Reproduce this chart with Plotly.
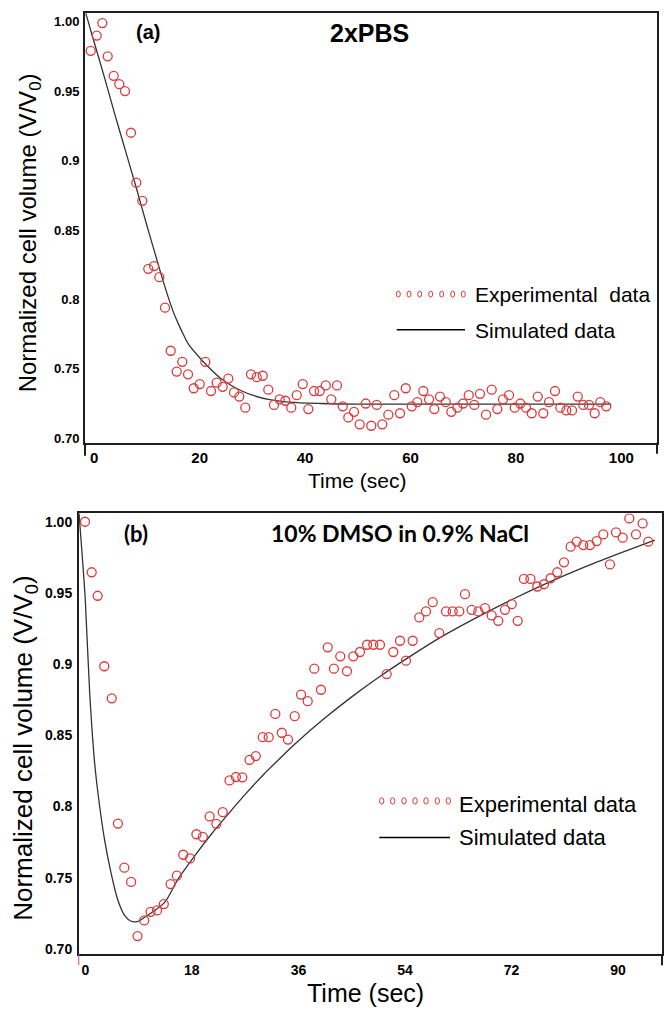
import plotly.graph_objects as go

W, H = 665, 1012

# ---------------- Panel (a): 2xPBS ----------------
t_exp_a = [-0.67, 0.46, 1.53, 2.55, 3.69, 4.75, 5.83, 6.97, 7.98, 9.12,
           10.25, 11.34, 12.34, 13.42, 14.50, 15.64, 16.70, 17.79, 18.87, 20.01,
           21.07, 22.15, 23.23, 24.37, 25.43, 26.51, 27.52, 28.66, 29.74, 30.82,
           31.96, 33.02, 34.10, 35.18, 36.25, 37.38, 38.41, 39.55, 40.61, 41.69,
           42.77, 43.91, 44.97, 46.05, 47.14, 48.20, 49.28, 50.36, 51.50, 52.56,
           53.59, 54.65, 55.79, 56.92, 58.01, 59.09, 60.23, 61.29, 62.43, 63.51,
           64.51, 65.59, 66.68, 67.74, 68.88, 69.96, 71.04, 72.10, 73.18, 74.32,
           75.40, 76.47, 77.55, 78.68, 79.77, 80.83, 81.91, 82.99, 84.13, 85.19,
           86.27, 87.41, 88.42, 89.55, 90.64, 91.72, 92.78, 93.86, 94.94, 96.00, 97.14]
v_exp_a = [0.979, 0.990, 0.999, 0.975, 0.961, 0.955, 0.950, 0.920, 0.884, 0.871,
           0.822, 0.824, 0.816, 0.794, 0.763, 0.748, 0.755, 0.746, 0.736, 0.739,
           0.755, 0.734, 0.740, 0.737, 0.743, 0.733, 0.730, 0.722, 0.746, 0.744,
           0.745, 0.735, 0.724, 0.728, 0.727, 0.722, 0.731, 0.739, 0.721, 0.734,
           0.734, 0.738, 0.728, 0.738, 0.723, 0.715, 0.719, 0.710, 0.725, 0.709,
           0.724, 0.710, 0.717, 0.731, 0.718, 0.736, 0.723, 0.726, 0.734, 0.728,
           0.721, 0.730, 0.726, 0.719, 0.722, 0.725, 0.731, 0.724, 0.732, 0.717,
           0.735, 0.721, 0.728, 0.731, 0.722, 0.725, 0.722, 0.718, 0.730, 0.718,
           0.726, 0.734, 0.722, 0.720, 0.720, 0.730, 0.724, 0.724, 0.718, 0.726, 0.723]
t_sim_a = [-1.6, 0, 2, 4, 6, 8, 10, 11, 12, 13, 14, 15, 16, 17, 18, 20, 22, 24, 26, 28,
           30, 33, 37, 43, 50, 98]
v_sim_a = [1.006, 0.985, 0.959, 0.932, 0.906, 0.880, 0.853, 0.840, 0.827, 0.814,
           0.802, 0.791, 0.782, 0.774, 0.767, 0.758, 0.750, 0.743, 0.738, 0.734,
           0.731, 0.728, 0.726, 0.725, 0.7245, 0.7245]
xticks_a = [0, 20, 40, 60, 80, 100]
yticks_a = [0.70, 0.75, 0.80, 0.85, 0.90, 0.95, 1.00]
yticktext_a = ["0.70", "0.75", "0.8", "0.85", "0.9", "0.95", "1.00"]

# ---------------- Panel (b): 10% DMSO in 0.9% NaCl ----------------
t_exp_b = [-0.05, 1.08, 2.09, 3.21, 4.46, 5.51, 6.59, 7.74, 8.82, 9.96,
           11.03, 12.11, 13.26, 14.41, 15.47, 16.55, 17.70, 18.77, 19.85, 21.0,
           22.14, 23.21, 24.36, 25.44, 26.52, 27.74, 28.80, 29.97, 30.98, 32.1,
           33.2, 34.24, 35.37, 36.44, 37.57, 38.68, 39.81, 40.95, 42.0, 43.07,
           44.2, 45.27, 46.4, 47.6, 48.65, 49.78, 50.91, 52.03, 53.16, 54.17,
           55.3, 56.42, 57.55, 58.68, 59.8, 60.93, 62.06, 63.18, 64.14, 65.27,
           66.39, 67.52, 68.65, 69.76, 70.9, 72.03, 73.04, 74.1, 75.2, 76.35,
           77.48, 78.6, 79.73, 80.86, 81.99, 83.0, 84.12, 85.25, 86.38, 87.5,
           88.63, 89.65, 90.78, 91.9, 93.03, 94.15, 95.1]
v_exp_b = [1.000, 0.9645, 0.948, 0.8985, 0.876, 0.788, 0.757, 0.747, 0.709, 0.720,
           0.726, 0.727, 0.7315, 0.7455, 0.7514, 0.7661, 0.7635, 0.7805, 0.7787, 0.7930,
           0.7878, 0.796, 0.8183, 0.8207, 0.8205, 0.8327, 0.8354, 0.8487, 0.8487, 0.865,
           0.8518, 0.847, 0.8634, 0.8786, 0.874, 0.8968, 0.882, 0.9118, 0.8968, 0.9055,
           0.895, 0.9055, 0.9085, 0.9136, 0.9136, 0.9136, 0.893, 0.9085, 0.9164, 0.9024,
           0.9164, 0.9328, 0.937, 0.9435, 0.9218, 0.937, 0.937, 0.937, 0.9491, 0.9381,
           0.937, 0.9393, 0.9342, 0.9304, 0.9381, 0.9421, 0.9304, 0.9598, 0.9598, 0.9545,
           0.9561, 0.9603, 0.9645, 0.9715, 0.9825, 0.986, 0.9836, 0.9836, 0.9864, 0.9911,
           0.970, 0.9925, 0.9888, 1.0023, 0.9911, 0.9988, 0.986]
t_sim_b = [-1.06, -0.5, 0.0, 0.74, 1.59, 2.43, 3.28, 4.39, 5.52, 6.66, 7.77, 8.9,
           10.03, 13.41, 15.66, 18.48, 21.28, 24.1, 27.0, 30.0, 33.0, 35.37, 40.0,
           45.0, 50.0, 55.0, 60.0, 66.0, 72.0, 78.0, 84.0, 90.0, 96.2]
v_sim_b = [1.006, 0.975, 0.945, 0.880, 0.830, 0.800, 0.776, 0.7525, 0.734, 0.7234,
           0.7194, 0.7194, 0.7222, 0.7327, 0.749, 0.7654, 0.7805, 0.7945, 0.8085,
           0.822, 0.8343, 0.8437, 0.8605, 0.877, 0.892, 0.9058, 0.9188, 0.9325,
           0.9452, 0.9569, 0.9676, 0.9774, 0.9871]
xticks_b = [0, 18, 36, 54, 72, 90]
yticks_b = [0.70, 0.75, 0.80, 0.85, 0.90, 0.95, 1.00]
yticktext_b = ["0.70", "0.75", "0.8", "0.85", "0.9", "0.95", "1.00"]

# ---------------- styling ----------------
RED = "#dd3b3b"
LINE = "#333333"
FRAME = "#1e1e1e"
SANS = "Liberation Sans, Arial, sans-serif"
HUM = "Lato, 'Open Sans', sans-serif"


def px(x):
    return x / W


def py(y):
    return 1 - y / H


fig = go.Figure()

fig.add_trace(go.Scatter(x=t_sim_a, y=v_sim_a, mode="lines", line=dict(color=LINE, width=1.3, shape="spline", smoothing=0.8),
                         xaxis="x", yaxis="y", showlegend=False, hoverinfo="skip"))
fig.add_trace(go.Scatter(x=t_exp_a, y=v_exp_a, mode="markers",
                         marker=dict(symbol="circle-open", size=9, color=RED, line=dict(width=1.3, color=RED)),
                         xaxis="x", yaxis="y", showlegend=False))
fig.add_trace(go.Scatter(x=t_sim_b, y=v_sim_b, mode="lines", line=dict(color=LINE, width=1.3, shape="spline", smoothing=0.8),
                         xaxis="x2", yaxis="y2", showlegend=False, hoverinfo="skip"))
fig.add_trace(go.Scatter(x=t_exp_b, y=v_exp_b, mode="markers",
                         marker=dict(symbol="circle-open", size=9, color=RED, line=dict(width=1.3, color=RED)),
                         xaxis="x2", yaxis="y2", showlegend=False))

axis_common = dict(showgrid=False, zeroline=False, showline=True, mirror=True,
                   linecolor=FRAME, linewidth=2, ticks="")

fig.update_layout(
    width=W, height=H,
    margin=dict(l=0, r=0, t=0, b=0),
    paper_bgcolor="white", plot_bgcolor="white",
    font=dict(family=SANS, color="black"),
    xaxis=dict(domain=[px(85), px(657)], range=[-1.755, 106.76], anchor="y",
               tickvals=xticks_a, ticktext=[str(v) for v in xticks_a],
               tickfont=dict(size=15, weight="bold", family=SANS), ticklabelstandoff=0, **axis_common),
    yaxis=dict(domain=[py(444), py(13)], range=[0.6968, 1.00625], anchor="x",
               tickvals=yticks_a, ticktext=yticktext_a,
               tickfont=dict(size=13, weight="bold", family=SANS), ticklabelstandoff=1, **axis_common),
    xaxis2=dict(domain=[px(79), px(662)], range=[-1.064, 97.42], anchor="y2",
                tickvals=xticks_b, ticktext=[str(v) for v in xticks_b],
                tickfont=dict(size=14, weight="bold", family=SANS), ticklabelstandoff=2, **axis_common),
    yaxis2=dict(domain=[py(956.7), py(515)], range=[0.6965, 1.0058], anchor="x2",
                tickvals=yticks_b, ticktext=yticktext_b,
                tickfont=dict(size=14, weight="bold", family=SANS), ticklabelstandoff=2, **axis_common),
)

ann = []


def text(x, y, s, size, family=SANS, bold=False, xanchor="center", angle=0):
    ann.append(dict(x=px(x), y=py(y), xref="paper", yref="paper", text=s, showarrow=False,
                    xanchor=xanchor, yanchor="middle", textangle=angle,
                    font=dict(size=size, family=family, color="black", weight="bold" if bold else "normal")))


# panel labels / titles
text(148, 32, "(a)", 20, SANS, True)
text(369.5, 33, "2xPBS", 25, SANS, True)
text(136, 535, "(b)", 22, HUM, True)
text(400, 535, "10% DMSO in 0.9% NaCl", 23, HUM, True)

# axis titles
text(29, 234, "Normalized cell volume (V/V<sub>0</sub>)", 24, angle=-90)
text(357, 482, "Time (sec)", 21)
text(25, 751, "Normalized cell volume (V/V<sub>0</sub>)", 26, angle=-90)
text(365, 996, "Time (sec)", 25)

# legends text
text(473, 295, "Experimental\u00a0 data", 21, xanchor="left")
text(473, 331, "Simulated data", 21, xanchor="left")
text(457, 807, "Experimental data", 22, xanchor="left")
text(457, 840, "Simulated data", 22, xanchor="left")

shapes = []
# legend glyphs
for cx in [398.3, 409.0, 419.7, 430.7, 441.7, 452.7, 463.3]:
    shapes.append(dict(type="circle", xref="paper", yref="paper",
                       x0=px(cx - 2), x1=px(cx + 2), y0=py(295 + 3), y1=py(295 - 3),
                       line=dict(color=RED, width=1)))
shapes.append(dict(type="line", xref="paper", yref="paper", x0=px(396.7), x1=px(465),
                   y0=py(330.7), y1=py(330.7), line=dict(color="black", width=1.6)))
for cx in [381.7, 392.7, 404.0, 415.0, 426.0, 437.3, 448.3]:
    shapes.append(dict(type="circle", xref="paper", yref="paper",
                       x0=px(cx - 2.2), x1=px(cx + 2.2), y0=py(803.3 + 3.2), y1=py(803.3 - 3.2),
                       line=dict(color=RED, width=1)))
shapes.append(dict(type="line", xref="paper", yref="paper", x0=px(379.3), x1=px(450),
                   y0=py(840), y1=py(840), line=dict(color="black", width=1.6)))

# frame extensions below the plot areas
shapes.append(dict(type="line", xref="paper", yref="paper", x0=px(85), x1=px(85),
                   y0=py(444), y1=py(457), line=dict(color=FRAME, width=2)))
shapes.append(dict(type="line", xref="paper", yref="paper", x0=px(657), x1=px(657),
                   y0=py(444), y1=py(455), line=dict(color=FRAME, width=2)))
shapes.append(dict(type="line", xref="paper", yref="paper", x0=px(78.8), x1=px(78.8),
                   y0=py(957), y1=py(968), line=dict(color="#c040c0", width=1)))
shapes.append(dict(type="line", xref="paper", yref="paper", x0=px(662), x1=px(662),
                   y0=py(957), y1=py(968), line=dict(color=FRAME, width=2)))

fig.update_layout(annotations=ann, shapes=shapes)

fig.write_html("out.html", config={"displayModeBar": False},
               post_script="document.body.style.margin='0';")
